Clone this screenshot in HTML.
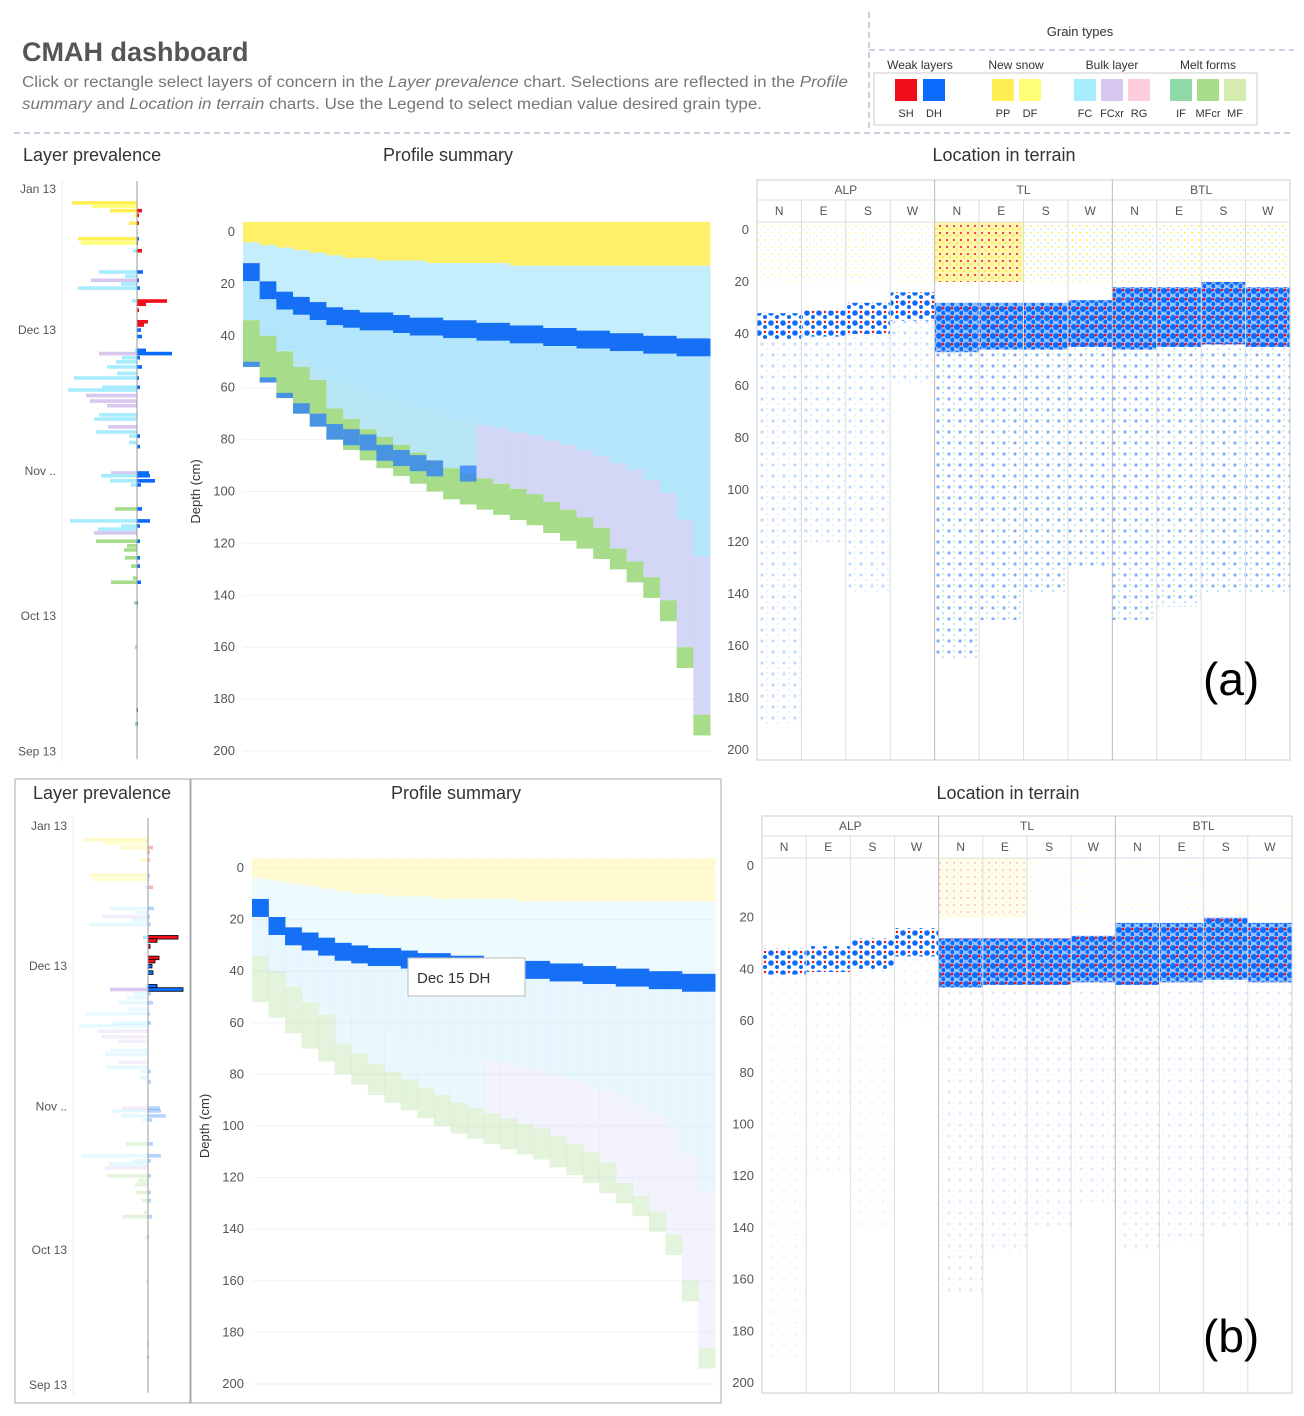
<!DOCTYPE html>
<html><head><meta charset="utf-8">
<style>
html,body{margin:0;padding:0;background:#fff;}
svg{display:block;font-family:"Liberation Sans",sans-serif;}
</style></head>
<body>
<svg id="s" width="1304" height="1416" viewBox="0 0 1304 1416" xmlns="http://www.w3.org/2000/svg">
<defs>
<pattern id="dense" width="9" height="9" patternUnits="userSpaceOnUse">
<rect width="9" height="9" fill="#3a8cff" opacity="0.55"/>
<circle cx="3" cy="3" r="3" fill="#0a6cff"/><circle cx="7.5" cy="7" r="2.2" fill="#0a6cff"/><circle cx="7" cy="2" r="1.4" fill="#f00f1a"/>
</pattern>
<pattern id="alpDots" width="12" height="10" patternUnits="userSpaceOnUse">
<circle cx="3" cy="3" r="2.8" fill="#0a6cff"/><circle cx="9" cy="7" r="2" fill="#0a6cff"/><circle cx="9" cy="2" r="1.2" fill="#f00f1a"/>
</pattern>
<pattern id="sparse" width="11" height="11" patternUnits="userSpaceOnUse">
<circle cx="3" cy="3" r="1.6" fill="#0a6cff" opacity="0.7"/><circle cx="8" cy="8" r="1.2" fill="#a8d8ff"/><circle cx="8" cy="2" r="1" fill="#b8e0a8"/>
</pattern>
<pattern id="snow" width="7" height="7" patternUnits="userSpaceOnUse">
<circle cx="2" cy="2" r="1" fill="#ffe94a"/><circle cx="5" cy="5" r="0.9" fill="#bfe6ff"/>
</pattern>
<pattern id="snowRed" width="7" height="7" patternUnits="userSpaceOnUse">
<rect width="7" height="7" fill="#fff6a0"/><circle cx="2" cy="2" r="1.1" fill="#f00f1a"/><circle cx="5" cy="5" r="1" fill="#ffe000"/>
</pattern>
</defs>
<text x="22" y="61" font-size="27" font-weight="bold" fill="#555">CMAH dashboard</text>
<text x="22" y="87" font-size="15.5" fill="#777" textLength="826" lengthAdjust="spacingAndGlyphs">Click or rectangle select layers of concern in the <tspan font-style="italic">Layer prevalence</tspan> chart. Selections are reflected in the <tspan font-style="italic">Profile</tspan></text>
<text x="22" y="109" font-size="15.5" fill="#777" textLength="740" lengthAdjust="spacingAndGlyphs"><tspan font-style="italic">summary</tspan> and <tspan font-style="italic">Location in terrain</tspan> charts. Use the Legend to select median value desired grain type.</text>
<line x1="14" y1="133" x2="1294" y2="133" stroke="#b8c4d8" stroke-dasharray="6,4" stroke-width="1.5"/>
<line x1="869" y1="12" x2="869" y2="133" stroke="#b8c4d8" stroke-dasharray="6,4" stroke-width="1.5"/>
<line x1="869" y1="50" x2="1294" y2="50" stroke="#b8c4d8" stroke-dasharray="6,4" stroke-width="1.5"/>
<text x="1080" y="36" font-size="13" fill="#333" text-anchor="middle">Grain types</text>
<rect x="874" y="73" width="383" height="52" fill="#fff" stroke="#ccc"/>
<g id="legend"></g>
<g id="root"></g>
<text x="1203" y="695" font-size="46" fill="#000">(a)</text>
<text x="1203" y="1352" font-size="46" fill="#000">(b)</text>
</svg>
<script>
// ---- data ----
const grainCodes = ["SH","DH","PP","DF","FC","FCxr","RG","IF","MFcr","MF"];
const grainColors = ["#f00f1a","#0a6cff","#ffee55","#ffff77","#a8ecff","#d8c8f0","#ffccdd","#8fd8a8","#a6dc8a","#d4ecb0"];
const legendGroups = ["Weak layers","New snow","Bulk layer","Melt forms"];
// layer prevalence: days before Jan 13, bulk count (left), bulk type, weak count (right), weak type
const lpDays = [3,3.7,4.7,5.7,7.4,10.8,11.7,13.4,18,18.9,19.8,20.6,21.5,24.3,25,26.3,28.8,29.5,30.6,32,35,35.7,36.6,37.5,38.6,40,41,43,43.6,44.8,46,47,49,49.9,51.6,52.7,53.6,55,55.9,61.6,62.2,63.3,64.2,69.4,72,73.1,73.8,74.6,76.4,77.4,78.3,80,81.8,84.4,85.3,89.8,99.4,113,116];
const lpBulk = [65,45,27,3,8,59,56,4,38,12,46,16,59,5,0,0,0,0,0,0,2,38,15,21,30,20,63,35,69,51,47,30,38,43,29,41,8,8,0,26,36,27,6,22,67,16,39,43,41,10,13,12,6,4,26,3,2,1,2];
const lpBulkType = ["PP","DF","PP","DF","PP","PP","DF","FC","FC","FC","FCxr","FC","FC","FC","FC","FC","FC","FC","FC","FC","FC","FCxr","FC","FC","FC","FC","FC","FC","FC","FCxr","FCxr","FCxr","FC","FC","FCxr","FC","FC","FC","FC","FCxr","FC","FC","FC","MFcr","FC","FC","FC","FCxr","MFcr","MFcr","MFcr","MFcr","MFcr","MFcr","MFcr","MFcr","MFcr","MFcr","MFcr"];
const lpWeak = [0,0,5,2,2,2,1,5,6,0,2,0,3,30,9,2,11,7,4,5,9,35,3,0,5,0,2,3,0,0,0,0,0,0,0,0,3,0,3,12,13,18,4,5,13,3,0,0,3,0,0,3,3,0,4,1,0,1,1];
const lpWeakType = ["DH","DH","SH","SH","SH","DH","DH","SH","DH","DH","DH","DH","DH","SH","SH","SH","SH","SH","DH","DH","DH","DH","DH","DH","DH","DH","DH","DH","DH","DH","DH","DH","DH","DH","DH","DH","DH","DH","DH","DH","DH","DH","DH","DH","DH","DH","DH","DH","DH","DH","DH","DH","DH","DH","DH","DH","DH","DH","DH"];
const lpTicks = ["Jan 13","Dec 13","Nov ..","Oct 13","Sep 13"];
const lpTickDays = [0,30.6,61.2,92.6,122];
// profile summary (cm)
const profTotal = [52,58,64,70,75,80,84,88,91,94,97,100,103,105,107,109,111,113,116,119,122,126,130,135,141,150,168,194];
const profSnow = [4,5,6,7,8,9,10,10,11,11,11,12,12,12,12,12,13,13,13,13,13,13,13,13,13,13,13,13];
const profWeak = [12,19,23,25,27,29,30,31,31,32,33,33,34,34,35,35,36,36,37,37,38,38,39,39,40,40,41,41];
const profDeep = [50,56,62,66,70,74,76,78,82,84,86,88,0,90,0,0,0,0,0,0,0,0,0,0,0,0,0,0];
const depthTicks = [0,20,40,60,80,100,120,140,160,180,200];
// location in terrain
const zones = ["ALP","TL","BTL"];
const aspects = ["N","E","S","W"];
const terrWeakTop = [32,31,28,24,28,28,28,27,22,22,20,22];
const terrWeakBot = [42,41,40,35,47,46,46,45,46,45,44,45];
const terrDeepBot = [190,120,140,60,165,150,140,130,150,145,140,140];
const terrDense = [0,0,0,0,1,1,1,1,1,1,1,1];

const svg = document.getElementById('s');
const root = document.getElementById('root');
const NS = 'http://www.w3.org/2000/svg';
function mk(tag, attrs, parent){const e=document.createElementNS(NS,tag);for(const k in attrs)e.setAttribute(k,attrs[k]);(parent||root).appendChild(e);return e;}
function col(code){return grainColors[grainCodes.indexOf(code)];}

// legend
const legX=[[906,934],[1003,1030],[1085,1112,1139],[1181,1208,1235]];
const legCodes=[["SH","DH"],["PP","DF"],["FC","FCxr","RG"],["IF","MFcr","MF"]];
const legHead=[920,1016,1112,1208];
const lg=document.getElementById('legend');
legendGroups.forEach((g,i)=>{
  const t=mk('text',{x:legHead[i],y:69,'font-size':12,fill:'#333','text-anchor':'middle'},lg);t.textContent=g;
  
  
  legCodes[i].forEach((c,j)=>{
    const r=mk('rect',{x:legX[i][j]-11,y:79,width:22,height:22,fill:col(c)},lg);
    
    
    const tt=mk('text',{x:legX[i][j],y:117,'font-size':11,fill:'#333','text-anchor':'middle'},lg);tt.textContent=c;
    
    
  });
});

function drawPanel(P){
  const g=mk('g',{opacity:1});
  
  
  // ---- layer prevalence ----
  const t1=mk('text',{x:P.lpTitleX,y:P.titleY,'font-size':18,fill:'#333'},g);t1.textContent='Layer prevalence';
  
  
  if(P.frame){mk('rect',{x:15,y:P.titleY-20,width:175,height:P.lpBottom-P.titleY+25,fill:'none',stroke:'#aaa'},g);}
  mk('line',{x1:P.lpLeft,y1:P.lpY0-10,x2:P.lpLeft,y2:P.lpY0+122*P.ppd+10,stroke:'#eee'},g);
  const yDay=d=>P.lpY0+d*P.ppd;
  lpTicks.forEach((tk,i)=>{const t=mk('text',{x:P.lpLeft-6,y:yDay(lpTickDays[i])+4,'font-size':12,fill:'#555','text-anchor':'end'},g);t.textContent=tk;
    
    });
  const lpG=mk('g',{},g);
  
  
  lpDays.forEach((d,i)=>{
    const y=yDay(d)-1.8;
    const sel=P.sel&&d>=24&&d<=36;
    const op=P.sel&&!sel?0.3:1;
    if(lpBulk[i]>0){const r=mk('rect',{x:P.lpAxis-lpBulk[i]*P.lpScale,y:y,width:lpBulk[i]*P.lpScale,height:3.6,fill:col(lpBulkType[i]),opacity:op},lpG);
      
      }
    if(lpWeak[i]>0){const r=mk('rect',{x:P.lpAxis,y:y,width:lpWeak[i]*P.lpScale,height:3.6,fill:col(lpWeakType[i]),opacity:op,stroke:sel?'#000':'none','stroke-width':0.8},lpG);
      
      }
  });
  mk('line',{x1:P.lpAxis,y1:P.lpY0-8,x2:P.lpAxis,y2:P.lpY0+122*P.ppd+8,stroke:'#999'},g);

  // ---- profile summary ----
  const t2=mk('text',{x:P.ptitleX,y:P.titleY,'font-size':18,fill:'#333','text-anchor':'middle'},g);t2.textContent='Profile summary';
  
  
  if(P.frame){mk('rect',{x:191,y:P.titleY-20,width:530,height:P.lpBottom-P.titleY+25,fill:'none',stroke:'#aaa'},g);}
  const yD=c=>P.py0+c*P.ppc;
  depthTicks.forEach(t=>{const e=mk('text',{x:P.px0-8,y:yD(t)+4,'font-size':13,fill:'#555','text-anchor':'end'},g);e.textContent=t;
    
    
    mk('line',{x1:P.px0,y1:yD(t),x2:P.px1,y2:yD(t),stroke:'#f2f2f2'},g);});
  const yl=mk('text',{x:0,y:0,'font-size':13,fill:'#333','text-anchor':'middle',transform:`translate(${P.px0-43},${yD(100)}) rotate(-90)`},g);yl.textContent='Depth (cm)';
  
  
  const pg=mk('g',{},g);
  
  
  const n=profTotal.length, w=(P.px1-P.px0)/n;
  const fo=P.sel?0.3:1;
  profTotal.forEach((tot,i)=>{
    const x=P.px0+i*w, top=P.ptop;
    const seg=(a,b,c,o)=>{if(b>a){const r=mk('rect',{x:x,y:a,width:w+0.5,height:b-a,fill:c,opacity:o},pg);}};
    const sn=yD(profSnow[i]), wk=yD(profWeak[i]), bt=yD(tot);
    const gT=tot<80?18:(tot<130?12:8);
    const gTop=yD(tot-gT);
    const purpleTop=yD(profWeak[i]+(tot-profWeak[i])*0.55);
    seg(top,sn,'#fff06a',fo);
    seg(sn,wk,'#c4eefc',fo);
    seg(wk,Math.min(wk+18,gTop),'#1670f5',1);
    seg(wk+18,purpleTop,'#b3e6fb',fo);
    seg(purpleTop,gTop,i>13?'#d3d6f4':'#b8e6f4',fo);
    seg(gTop,bt,'#a6dc8a',fo);
    if(profDeep[i]>0&&!P.sel) seg(yD(profDeep[i]),Math.min(yD(profDeep[i])+16,bt),'#2a7cff',0.75);
  });
  if(P.sel){
    const tb=mk('rect',{x:408,y:958,width:117,height:38,fill:'#fff',stroke:'#bbb'},g);
    
    
    const tt=mk('text',{x:417,y:983,'font-size':15,fill:'#333'},g);tt.textContent='Dec 15 DH';
    
    
  }

  // ---- location in terrain ----
  const t3=mk('text',{x:P.ttitleX,y:P.titleY,'font-size':18,fill:'#333','text-anchor':'middle'},g);t3.textContent='Location in terrain';
  
  
  const cw=(P.tx1-P.tx0)/12, yT=c=>P.ty0+c*P.tppc;
  depthTicks.forEach(t=>{const e=mk('text',{x:P.tx0-8,y:yT(t)+4,'font-size':13,fill:'#555','text-anchor':'end'},g);e.textContent=t;
    
    });
  const tg=mk('g',{},g);
  
  
  const plotTop=P.thead+42;
  for(let i=0;i<12;i++){
    const x=P.tx0+i*cw;
    const so=P.sel?0.25:1;
    const red=terrDense[i]&&i<6;
    const r0=mk('rect',{x:x,y:plotTop,width:cw,height:yT(20)-plotTop,fill:red?'url(#snowRed)':'url(#snow)',opacity:so*(terrDense[i]?0.85:0.5)},tg);
    
    
    const r2=mk('rect',{x:x,y:yT(terrWeakBot[i]),width:cw,height:yT(terrDeepBot[i])-yT(terrWeakBot[i]),fill:'url(#sparse)',opacity:so*(terrDense[i]?0.75:0.35)},tg);
    
    
    const r1=mk('rect',{x:x,y:yT(terrWeakTop[i]),width:cw,height:yT(terrWeakBot[i])-yT(terrWeakTop[i]),fill:terrDense[i]?'url(#dense)':'url(#alpDots)',opacity:1},tg);
    
    
  }
  mk('rect',{x:P.tx0,y:P.thead,width:P.tx1-P.tx0,height:P.tbot-P.thead,fill:'none',stroke:'#ccc'},g);
  mk('line',{x1:P.tx0,y1:P.thead+20,x2:P.tx1,y2:P.thead+20,stroke:'#ddd'},g);
  mk('line',{x1:P.tx0,y1:plotTop,x2:P.tx1,y2:plotTop,stroke:'#ddd'},g);
  for(let i=1;i<12;i++){mk('line',{x1:P.tx0+i*cw,y1:i%4?P.thead+20:P.thead,x2:P.tx0+i*cw,y2:P.tbot,stroke:i%4?'#ddd':'#bbb'},g);}
  zones.forEach((z,zi)=>{const e=mk('text',{x:P.tx0+(zi*4+2)*cw,y:P.thead+14,'font-size':12,fill:'#555','text-anchor':'middle'},g);e.textContent=z;
    
    
    aspects.forEach((a,ai)=>{const e2=mk('text',{x:P.tx0+(zi*4+ai+0.5)*cw,y:P.thead+35,'font-size':12,fill:'#555','text-anchor':'middle'},g);e2.textContent=a;
      
      });
  });
}
drawPanel({id:'a',titleY:161,lpTitleX:23,lpLeft:62,lpAxis:137,lpY0:189,ppd:4.61,lpScale:1,lpBottom:760,frame:false,sel:false,ptitleX:448,ttitleX:1004,
  px0:243,px1:710,py0:232,ppc:2.595,ptop:222,tx0:757,tx1:1290,ty0:230,tppc:2.6,thead:180,tbot:760});
drawPanel({id:'b',titleY:799,lpTitleX:33,lpLeft:73,lpAxis:148,lpY0:826,ppd:4.58,lpScale:1,lpBottom:1398,frame:true,sel:true,ptitleX:456,ttitleX:1008,
  px0:252,px1:715,py0:868,ppc:2.58,ptop:858,tx0:762,tx1:1292,ty0:866,tppc:2.585,thead:816,tbot:1393});
</script>
</body></html>
